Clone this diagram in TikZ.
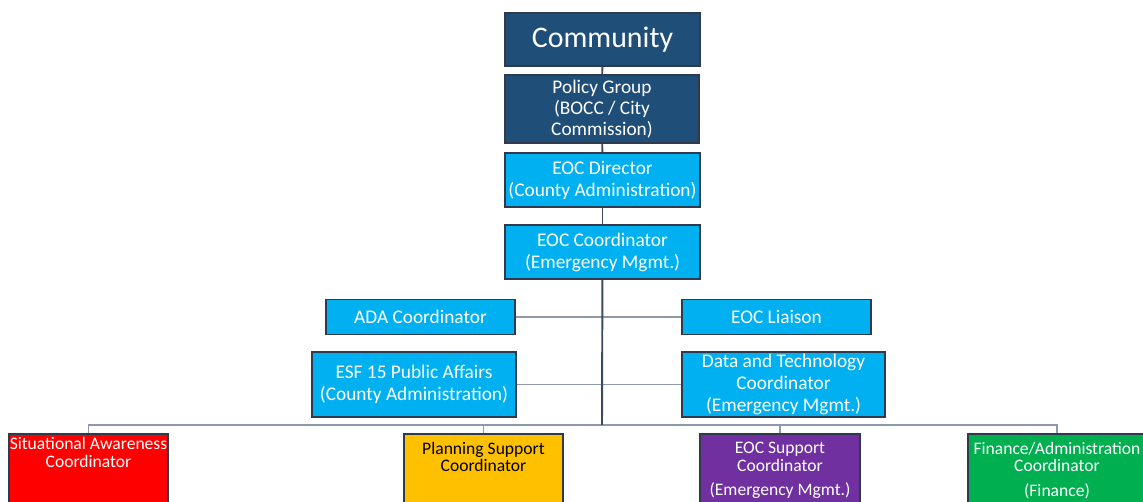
\documentclass[tikz,border=0pt]{standalone}
\usepackage{fontspec}
\setmainfont{Carlito}
\usetikzlibrary{positioning}

\definecolor{navy}{HTML}{1F4E79}
\definecolor{sky}{HTML}{00B0F0}
\definecolor{amber}{HTML}{FFC000}
\definecolor{violet}{HTML}{7030A0}
\definecolor{leaf}{HTML}{00B050}
\definecolor{edge}{HTML}{2F3B4C}
\definecolor{wire}{HTML}{8C9AAC}
\definecolor{spine}{HTML}{3E4B5E}

\tikzset{
  box/.style={draw=edge, line width=0.8pt, text=white, align=center, inner sep=1pt},
  topbox/.style={box, fill=navy},
  midbox/.style={box, fill=sky, font=\fontsize{11}{12.5}\selectfont},
  unitbox/.style={draw=edge, line width=0.8pt, minimum width=#1, minimum height=1.72cm},
  unittext/.style={anchor=north, align=center, font=\fontsize{10}{10}\selectfont},
  wire/.style={draw=wire, line width=1.1pt},
  spine/.style={draw=spine, line width=1.1pt}
}

\begin{document}
\begin{tikzpicture}[x=0.02cm, y=-0.02cm]
\useasboundingbox (0,0) rectangle (1143,502);
\clip (0,0) rectangle (1143,502);

% command chain
\node[topbox, minimum width=3.9cm, minimum height=1.06cm, font=\fontsize{17}{19}\selectfont] (comm) at (602.5,39.5) {Community};
\node[topbox, minimum width=3.88cm, minimum height=1.36cm, font=\fontsize{11}{12}\selectfont] (pol) at (602,109) {Policy Group\\(BOCC / City\\Commission)};
\node[midbox, minimum width=3.9cm, minimum height=1.08cm] (dir) at (602.5,180) {EOC Director\\(County Administration)};
\node[midbox, minimum width=3.9cm, minimum height=1.08cm] (coord) at (602.5,252) {EOC Coordinator\\(Emergency Mgmt.)};

% staff on both sides
\node[midbox, minimum width=3.78cm, minimum height=0.71cm] (ada) at (420.5,317) {ADA Coordinator};
\node[midbox, minimum width=3.78cm, minimum height=0.71cm] (liaison) at (776.5,317) {EOC Liaison};
\node[midbox, minimum width=4.08cm, minimum height=1.3cm] (esf) at (414,384.5) {ESF 15 Public Affairs\\(County Administration)};
\node[midbox, minimum width=4.06cm, minimum height=1.3cm] (data) at (783.5,384.5) {Data and Technology\\Coordinator\\(Emergency Mgmt.)};

% sections, text hangs from the top edge
\node[unitbox=3.18cm, fill=red, label={[unittext, text=white, yshift=1pt]north:Situational Awareness\\Coordinator}] (sa) at (88.5,477) {};
\node[unitbox=3.18cm, fill=amber, label={[unittext, yshift=-1.5pt]north:Planning Support\\Coordinator}] (ps) at (483.5,477) {};
\node[unitbox=3.2cm, fill=violet, label={[unittext, text=white, yshift=-1.5pt]north:EOC Support\\Coordinator\\[4pt](Emergency Mgmt.)}] (es) at (780,477) {};
\node[unitbox=3.56cm, fill=leaf, label={[unittext, text=white, yshift=-1.5pt]north:Finance/Administration\\Coordinator\\[4pt](Finance)}] (fin) at (1057,477) {};

\coordinate (bus) at (602,425);

% connectors
\draw[wire] (ada) -- (liaison);
\draw[wire] (esf) -- (data);
\draw[wire] (sa.north) |- (bus) -| (fin.north);
\draw[wire] (ps.north) |- (bus);
\draw[wire] (es.north) |- (bus);
\draw[spine] (comm) -- (pol);
\draw[spine] (pol) -- (dir);
\draw[spine] (dir) -- (coord);
\draw[spine] (coord) -- (bus);
\end{tikzpicture}
\end{document}
